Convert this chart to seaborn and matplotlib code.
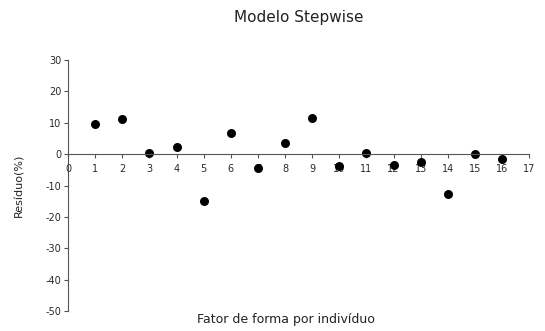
import matplotlib
matplotlib.use("Agg")
import matplotlib.pyplot as plt
import seaborn as sns
import pandas as pd

individuo = [1, 2, 3, 4, 5, 6, 7, 8, 9, 10, 11, 12, 13, 14, 15, 16]
residuo = [9.4, 11.0, 0.2, 2.1, -14.8, 6.6, -4.3, 3.6, 11.4, -3.8, 0.4, -3.4, -2.4, -12.8, -0.1, -1.6]
x_ticks = list(range(0, 18))
y_ticks = [-50, -40, -30, -20, -10, 0, 10, 20, 30]

sns.set_style("white")
plt.rcParams['font.family'] = ['DejaVu Sans']
plt.rcParams['axes.unicode_minus'] = False

df = pd.DataFrame({"x": individuo, "y": residuo})

fig = plt.figure(figsize=(5.45, 3.31), dpi=100)
ax = fig.add_axes([0.125, 0.059, 0.846, 0.761])
sns.scatterplot(data=df, x="x", y="y", ax=ax, color="black", s=42, edgecolor="black", linewidth=0)

ax.set_xlim(0, 17)
ax.set_ylim(-50, 30)
ax.set_xticks(x_ticks)
ax.set_yticks(y_ticks)
ax.spines['top'].set_visible(False)
ax.spines['right'].set_visible(False)
ax.spines['bottom'].set_position(('data', 0))
for sp in ['left', 'bottom']:
    ax.spines[sp].set_color('#555555')
    ax.spines[sp].set_linewidth(0.8)
ax.tick_params(axis='both', which='both', direction='out', length=3, width=0.8,
               color='#555555', labelsize=7, labelcolor='#2a2a2a', pad=2,
               bottom=True, left=True)
ax.tick_params(axis='x', pad=4)
ax.set_xlabel("")
ax.set_ylabel("Resíduo(%)", fontsize=8, color='#222222')
ax.yaxis.set_label_coords(-0.095, 0.5)
fig.text(0.525, 0.036, "Fator de forma por indivíduo", ha='center', va='center', fontsize=9, color='#222222')
fig.text(0.549, 0.946, "Modelo Stepwise", ha='center', va='center', fontsize=11, color='#222222')

fig.savefig("out.png", dpi=100)
